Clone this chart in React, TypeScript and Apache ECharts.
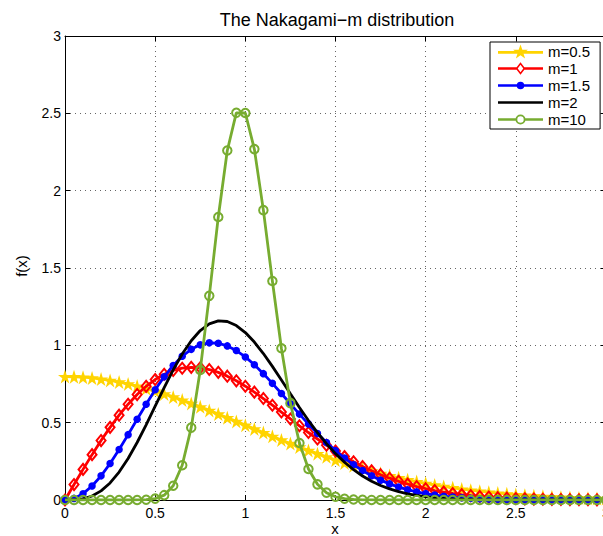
import React, { useEffect, useRef } from "react";
import * as echarts from "echarts";

const FONT = '"Liberation Sans", Arial, Helvetica, sans-serif';

const xValues = [
  0, 0.05, 0.1, 0.15, 0.2, 0.25, 0.3, 0.35, 0.4, 0.45, 0.5, 0.55, 0.6, 0.65, 0.7, 0.75, 0.8, 0.85, 0.9, 0.95,
  1, 1.05, 1.1, 1.15, 1.2, 1.25, 1.3, 1.35, 1.4, 1.45, 1.5, 1.55, 1.6, 1.65, 1.7, 1.75, 1.8, 1.85, 1.9, 1.95,
  2, 2.05, 2.1, 2.15, 2.2, 2.25, 2.3, 2.35, 2.4, 2.45, 2.5, 2.55, 2.6, 2.65, 2.7, 2.75, 2.8, 2.85, 2.9, 2.95, 3,
];

const m05 = [
  0.7979, 0.7969, 0.7939, 0.789, 0.7821, 0.7733, 0.7628, 0.7505, 0.7365, 0.7211, 0.7041,
  0.6859, 0.6664, 0.646, 0.6245, 0.6023, 0.5794, 0.556, 0.5322, 0.5081, 0.4839,
  0.4598, 0.4357, 0.4119, 0.3884, 0.3653, 0.3427, 0.3208, 0.2995, 0.2789, 0.259,
  0.24, 0.2218, 0.2045, 0.1881, 0.1725, 0.1579, 0.1441, 0.1312, 0.1192, 0.108,
  0.0976, 0.088, 0.0791, 0.0709, 0.0635, 0.0567, 0.0504, 0.0448, 0.0397, 0.0351,
  0.0309, 0.0272, 0.0238, 0.0208, 0.0182, 0.0158, 0.0137, 0.0119, 0.0103, 0.0089,
];

const m1 = [
  0, 0.0998, 0.198, 0.2933, 0.3843, 0.4697, 0.5484, 0.6193, 0.6817, 0.735, 0.7788,
  0.8129, 0.8372, 0.852, 0.8577, 0.8547, 0.8437, 0.8254, 0.8007, 0.7706, 0.7358,
  0.6973, 0.656, 0.6129, 0.5686, 0.524, 0.4798, 0.4364, 0.3944, 0.3542, 0.3162,
  0.2805, 0.2474, 0.2168, 0.189, 0.1637, 0.141, 0.1207, 0.1028, 0.087, 0.0733,
  0.0613, 0.0511, 0.0423, 0.0348, 0.0285, 0.0232, 0.0188, 0.0151, 0.0121, 0.0097,
  0.0076, 0.006, 0.0047, 0.0037, 0.0029, 0.0022, 0.0017, 0.0013, 0.001, 0.0007,
];

const m15 = [
  0, 0.0103, 0.0408, 0.0902, 0.1562, 0.2359, 0.326, 0.4226, 0.5218, 0.6196, 0.7124,
  0.7967, 0.8698, 0.9294, 0.9741, 1.003, 1.016, 1.0134, 0.9964, 0.9664, 0.9251,
  0.8746, 0.8169, 0.7542, 0.6885, 0.6217, 0.5554, 0.4909, 0.4296, 0.3721, 0.3192,
  0.2711, 0.2281, 0.1901, 0.157, 0.1284, 0.1041, 0.0836, 0.0666, 0.0525, 0.0411,
  0.0319, 0.0245, 0.0187, 0.0141, 0.0106, 0.0079, 0.0058, 0.0042, 0.0031, 0.0022,
  0.0016, 0.0011, 0.0008, 0.0005, 0.0004, 0.0003, 0.0002, 0.0001, 0.0001, 0.0001,
];

const m2 = [
  0, 0.001, 0.0078, 0.0258, 0.0591, 0.1103, 0.1804, 0.2685, 0.3718, 0.4862, 0.6065,
  0.7268, 0.8411, 0.9437, 1.0299, 1.0957, 1.1388, 1.1582, 1.1541, 1.1281, 1.0827,
  1.021, 0.9468, 0.8639, 0.776, 0.6865, 0.5984, 0.5141, 0.4355, 0.3639, 0.2999,
  0.2439, 0.1958, 0.1552, 0.1214, 0.0938, 0.0716, 0.0539, 0.0402, 0.0295, 0.0214,
  0.0154, 0.011, 0.0077, 0.0053, 0.0037, 0.0025, 0.0017, 0.0011, 0.0007, 0.0005,
  0.0003, 0.0002, 0.0001, 0.0001, 0, 0, 0, 0, 0, 0,
];

const m10 = [
  0, 0, 0, 0, 0, 0, 0, 0, 0.0003, 0.0019, 0.0086,
  0.0312, 0.0918, 0.2248, 0.4678, 0.8405, 1.3198, 1.8301, 2.2599, 2.5033, 2.5022,
  2.2686, 1.874, 1.4157, 0.9815, 0.6262, 0.3687, 0.2007, 0.1013, 0.0474, 0.0207,
  0.0084, 0.0032, 0.0011, 0.0004, 0.0001, 0, 0, 0, 0, 0,
  0, 0, 0, 0, 0, 0, 0, 0, 0, 0,
  0, 0, 0, 0, 0, 0, 0, 0, 0, 0,
];

const seriesNames = ["m=0.5", "m=1", "m=1.5", "m=2", "m=10"];
const seriesColors = ["#FFD400", "#FF0000", "#0000FF", "#000000", "#77AC30"];

const STAR =
  "path://M0,-100L22.45,-30.9L95.1,-30.9L36.3,11.8L58.8,80.9L0,38.2L-58.8,80.9L-36.3,11.8L-95.1,-30.9L-22.45,-30.9Z";

// legend icons: line sample + marker, drawn in a 450 x 160 box (10 units = 1 px)
const LINE_L = "M0,67L450,67L450,93L0,93Z";
const ICON_STAR =
  "path://" +
  LINE_L +
  "M225,2L243,55L299,55L254,88L271,141L225,108L179,141L196,88L151,55L207,55Z";
const ICON_DIAMOND =
  "path://M0,67L188,67L188,93L0,93ZM262,67L450,67L450,93L262,93Z" +
  "M225,18L273,80L225,142L177,80ZM225,42L197,80L225,118L253,80Z";
const ICON_DOT = "path://" + LINE_L + "M187,80A38,38 0 1,1 263,80A38,38 0 1,1 187,80Z";
const ICON_LINE = "path://" + LINE_L;
const ICON_RING =
  "path://M0,67L182,67L182,93L0,93ZM268,67L450,67L450,93L268,93Z" +
  "M175,80A50,50 0 1,1 275,80A50,50 0 1,1 175,80ZM193,80A32,32 0 1,0 257,80A32,32 0 1,0 193,80Z";
const legendIcons = [ICON_STAR, ICON_DIAMOND, ICON_DOT, ICON_LINE, ICON_RING];

export default function App() {
  const ref = useRef<HTMLDivElement>(null);

  useEffect(() => {
    if (!ref.current) return;
    const chart = echarts.init(ref.current, null, { renderer: "svg" });
    const pairs = (ys: number[]) => xValues.map((x, i) => [x, ys[i]]);
    const grid = { show: true, lineStyle: { color: "#666", type: [1, 4], width: 1 } };
    const axisLine = { show: true, onZero: false, lineStyle: { color: "#000", width: 1 } };
    const axisTick = { show: true, inside: true, length: 5, lineStyle: { color: "#000" } };
    const labelStyle = { fontFamily: FONT, fontSize: 14, color: "#000" };

    chart.setOption({
      animation: false,
      backgroundColor: "#ffffff",
      graphic: [
        {
          type: "text",
          x: 337,
          y: 20,
          style: {
            text: "The Nakagami\u2212m distribution",
            textAlign: "center",
            textVerticalAlign: "middle",
            fontFamily: FONT,
            fontSize: 18,
            fill: "#000",
          },
        },
        {
          type: "text",
          x: 335,
          y: 528,
          style: {
            text: "x",
            textAlign: "center",
            textVerticalAlign: "middle",
            fontFamily: FONT,
            fontSize: 15,
            fill: "#000",
          },
        },
        {
          type: "text",
          x: 21,
          y: 266,
          rotation: Math.PI / 2,
          style: {
            text: "f(x)",
            textAlign: "center",
            textVerticalAlign: "middle",
            fontFamily: FONT,
            fontSize: 15,
            fill: "#000",
          },
        },
      ],
      grid: { left: 65, right: -3, top: 36, bottom: 36, containLabel: false, outerBoundsMode: "none" },
      legend: {
        orient: "vertical",
        left: 490,
        top: 42,
        z: 20,
        itemWidth: 45,
        itemHeight: 16,
        itemGap: 2,
        padding: [2, 10, 2, 8],
        borderColor: "#000",
        borderWidth: 1,
        borderRadius: 0,
        backgroundColor: "#fff",
        symbolKeepAspect: true,
        textStyle: { fontFamily: FONT, fontSize: 15, color: "#000" },
        data: seriesNames.map((name, i) => ({
          name,
          icon: legendIcons[i],
          itemStyle: { color: seriesColors[i], borderWidth: 0, opacity: 1 },
        })),
      },
      xAxis: [
        {
          type: "value",
          min: 0,
          max: 3,
          interval: 0.5,
          position: "bottom",
          axisLine,
          axisTick,
          axisLabel: { ...labelStyle, margin: 6 },
          splitLine: grid,
        },
        {
          type: "value",
          min: 0,
          max: 3,
          interval: 0.5,
          position: "top",
          axisLine,
          axisTick,
          axisLabel: { show: false },
          splitLine: { show: false },
        },
      ],
      yAxis: [
        {
          type: "value",
          min: 0,
          max: 3,
          interval: 0.5,
          position: "left",
          axisLine,
          axisTick,
          axisLabel: { ...labelStyle, margin: 4 },
          splitLine: grid,
        },
        {
          type: "value",
          min: 0,
          max: 3,
          interval: 0.5,
          position: "right",
          axisLine,
          axisTick,
          axisLabel: { show: false },
          splitLine: { show: false },
        },
      ],
      series: [
        {
          name: seriesNames[0],
          type: "line",
          data: pairs(m05),
          symbol: STAR,
          symbolSize: 14,
          showAllSymbol: true,
          z: 2,
          lineStyle: { color: seriesColors[0], width: 2.8 },
          itemStyle: { color: seriesColors[0], borderWidth: 0 },
        },
        {
          name: seriesNames[1],
          type: "line",
          data: pairs(m1),
          symbol: "diamond",
          symbolSize: [9, 11],
          showAllSymbol: true,
          z: 3,
          lineStyle: { color: seriesColors[1], width: 2.8 },
          itemStyle: { color: "rgba(255,255,255,0)", borderColor: seriesColors[1], borderWidth: 2 },
        },
        {
          name: seriesNames[2],
          type: "line",
          data: pairs(m15),
          symbol: "circle",
          symbolSize: 7.5,
          showAllSymbol: true,
          z: 4,
          lineStyle: { color: seriesColors[2], width: 2.8 },
          itemStyle: { color: seriesColors[2], borderWidth: 0 },
        },
        {
          name: seriesNames[3],
          type: "line",
          data: pairs(m2),
          symbol: "none",
          z: 5,
          lineStyle: { color: seriesColors[3], width: 2.8 },
          itemStyle: { color: seriesColors[3] },
        },
        {
          name: seriesNames[4],
          type: "line",
          data: pairs(m10),
          symbol: "circle",
          symbolSize: 8.5,
          showAllSymbol: true,
          z: 6,
          lineStyle: { color: seriesColors[4], width: 2.8 },
          itemStyle: { color: "rgba(255,255,255,0)", borderColor: seriesColors[4], borderWidth: 2 },
        },
      ],
    });
    return () => chart.dispose();
  }, []);

  return (
    <div
      ref={ref}
      style={{ position: "absolute", left: 0, top: 0, width: 603, height: 536, background: "#fff" }}
    />
  );
}
